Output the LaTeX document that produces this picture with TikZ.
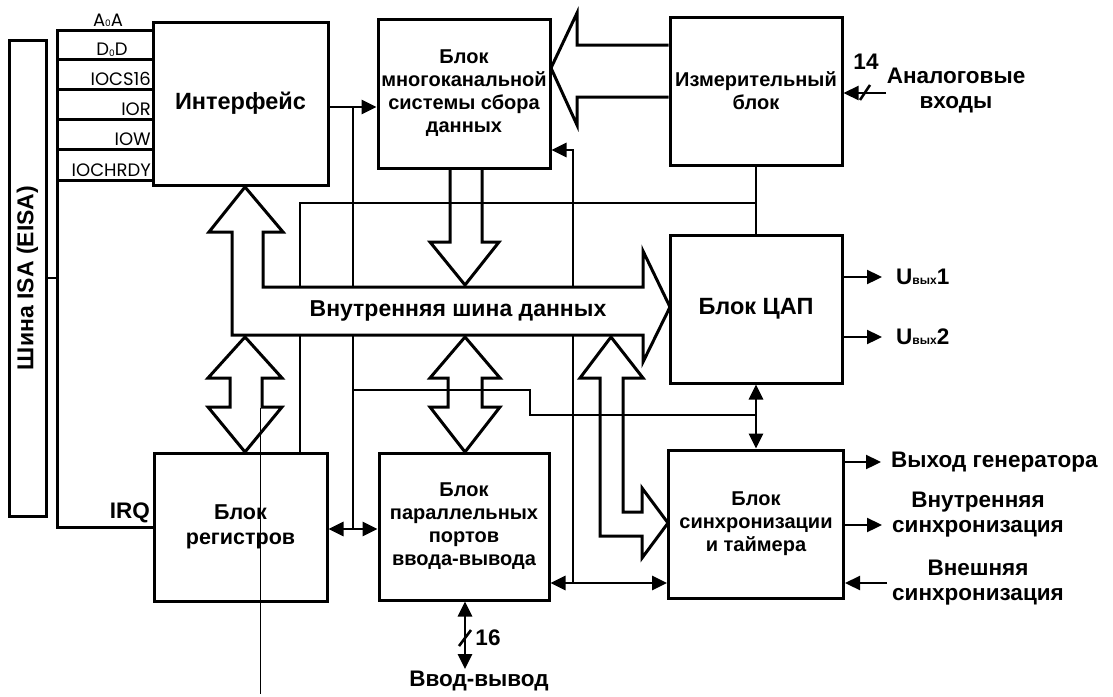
\documentclass[tikz,border=0pt]{standalone}
\usepackage{fontspec}
\setmainfont{Liberation Sans}
\newfontfamily\gothic{Poppins}
\usetikzlibrary{arrows.meta}
\begin{document}
\begin{tikzpicture}[x=1pt,y=-1pt,
  box/.style={draw, line width=3pt, inner sep=0pt, align=center,
              font=\bfseries\fontsize{20}{23}\selectfont},
  conn/.style={line width=2.8pt},
  hollow/.style={line width=3pt, line join=miter},
  tipend/.style={-{Triangle[length=15pt,width=14pt]}},
  dtip/.style={{Triangle[length=15pt,width=14pt]}-{Triangle[length=15pt,width=14pt]}},
  sig/.style={font=\gothic\fontsize{18}{18}\selectfont, inner sep=0pt},
  lab/.style={font=\bfseries\fontsize{22.5}{25}\selectfont, align=center, inner sep=0pt},
]
\useasboundingbox (0,0) rectangle (1113,696);

% ---- boxes
\node[box, minimum width=37pt, minimum height=476pt] (isa) at (27.5,278) {};
\node[box, minimum width=175pt, minimum height=163pt, font=\bfseries\fontsize{23.5}{26}\selectfont] (iface) at (240.5,103.5) {Интерфейс};
\node[box, minimum width=172pt, minimum height=149pt] (adc) at (464,93.5) {Блок\\многоканальной\\системы сбора\\данных};
\node[box, minimum width=172pt, minimum height=148pt] (meas) at (756,91) {Измерительный\\блок};
\node[box, minimum width=172pt, minimum height=148pt, font=\bfseries\fontsize{23.5}{26}\selectfont] (dac) at (756,309) {\raisebox{-8pt}{Блок ЦАП}};
\node[box, minimum width=173pt, minimum height=148pt, font=\bfseries\fontsize{21.5}{25}\selectfont] (regs) at (240.5,527) {Блок\\регистров};
\node[box, minimum width=170pt, minimum height=147pt] (par) at (464,526.5) {Блок\\параллельных\\портов\\ввода-вывода};
\node[box, minimum width=175pt, minimum height=148pt] (sync) at (756,524) {Блок\\синхронизации\\и таймера};

\node[lab, rotate=90, font=\bfseries\fontsize{23}{26}\selectfont] (isatext) at (isa.center) {Шина ISA (EISA)};

% ---- ISA signal lines
\coordinate (sa) at (57,30);
\coordinate (irqc) at (57,527);
\draw[conn, line width=3pt] (iface.west |- sa) -- (sa) -- (irqc) -- (regs.west |- irqc);
\foreach \y/\n in {59/d,89/cs,119/ior,149/iow,180/rdy}{
  \coordinate (s\n) at (57,\y);
  \draw[conn, line width=3pt] (s\n) -- (s\n -| iface.west);
}
\draw[conn] (isa.east) -- (isa.east -| sa);

\node[sig, anchor=base] (la) at (108,26) {A\raisebox{-1pt}{\fontsize{9}{9}\selectfont 0}A};
\node[sig, anchor=base] (ld) at (112,55) {D\raisebox{-1pt}{\fontsize{9}{9}\selectfont 0}D};
\node[sig, anchor=base east] (lcs) at (151,85) {IOCS16};
\node[sig, anchor=base east] (lior) at (151,115) {IOR};
\node[sig, anchor=base east] (liow) at (151,145) {IOW};
\node[sig, anchor=base east] (lrdy) at (151,176) {IOCHRDY};
\node[lab, anchor=base east] (irq) at (150,518) {IRQ};

% ---- connectors
\coordinate (j1) at (353,107);
\coordinate (j2) at (353,529);
\coordinate (c1) at (300,203);
\coordinate (m1) at (573,150);
\coordinate (m2) at (573,583);
\coordinate (k1) at (353,390);
\coordinate (k2) at (530,390);
\coordinate (k3) at (530,415);
\coordinate (k4) at (756,415);

\draw[conn, tipend] (iface.east |- j1) -- (adc.west |- j1);
\draw[conn] (j1) -- (j2);
\draw[conn, dtip] (regs.east |- j2) -- (par.west |- j2);
\draw[conn] (regs.north -| c1) -- (c1) -- (c1 -| meas.south);
\draw[conn] (meas.south) -- (dac.north);
\draw[conn, tipend] (m2) -- (m1) -- (adc.east |- m1);
\draw[conn, dtip] (par.east |- m2) -- (sync.west |- m2);
\draw[conn] (k1) -- (k2) -- (k3) -- (k4);
\draw[conn, dtip] (dac.south) -- (sync.north);

% thin scan line
\draw[line width=0.7pt] (260,408) -- (260,694);

% ---- internal data bus (filled)
\draw[hollow, fill=white] (245,187) -- (283,232) -- (263,232) -- (263,287) -- (643,287) -- (643,251)
  -- (670,307) -- (643,362) -- (643,335) -- (232,335) -- (232,232) -- (209,232) -- cycle;
\node[lab, font=\bfseries\fontsize{23}{25}\selectfont] (bustext) at (458,311) {Внутренняя шина данных};

% adc -> bus
\draw[hollow] (450,168) -- (450,242) -- (430,242) -- (465,285) -- (499,242) -- (482,242) -- (482,168);
% bus <-> regs
\draw[hollow] (245,337) -- (282,378) -- (262,378) -- (262,407) -- (282,407) -- (245,452)
  -- (208,407) -- (230,407) -- (230,378) -- (208,378) -- cycle;
% bus <-> par
\draw[hollow] (465,337) -- (500,378) -- (482,378) -- (482,407) -- (500,407) -- (465,452)
  -- (430,407) -- (448,407) -- (448,378) -- (430,378) -- cycle;
% bus -> sync
\draw[hollow] (611,337) -- (643,378) -- (623,378) -- (623,512) -- (642,512) -- (642,488)
  -- (668,523) -- (642,558) -- (642,536) -- (600,536) -- (600,378) -- (580,378) -- cycle;
% meas -> adc
\draw[hollow] (meas.west |- 0,45) -- (577,45) -- (577,13) -- (551,68) -- (577,125) -- (577,97) -- (meas.west |- 0,97);

% ---- analog inputs
\coordinate (ain) at (886,93);
\draw[conn, line width=2.3pt, tipend] (ain) -- (meas.east |- ain);
\draw[conn, line width=2.6pt] ([xshift=-26pt,yshift=-7pt]ain) -- ([xshift=-16pt,yshift=8pt]ain);
\node[lab] (n14) at (866,62) {14};
\node[lab] (alab) at (956,90) {Аналоговые\\входы};

% ---- DAC outputs
\node[lab, anchor=west] (u1) at (896,277) {U\raisebox{0pt}{\fontsize{12}{12}\selectfont вых}1};
\node[lab, anchor=west] (u2) at (896,337) {U\raisebox{0pt}{\fontsize{12}{12}\selectfont вых}2};
\draw[conn, line width=2.3pt, tipend] (dac.east |- u1) -- ([xshift=-14pt]u1.west);
\draw[conn, line width=2.3pt, tipend] (dac.east |- u2) -- ([xshift=-14pt]u2.west);

% ---- sync outputs
\node[lab, anchor=west] (gen) at (891,462) {Выход генератора};
\draw[conn, line width=2.3pt, tipend] (sync.east |- gen) -- ([xshift=-10pt]gen.west);
\node[lab] (isync) at (978,515) {Внутренняя\\синхронизация};
\coordinate (isa1) at (882,525);
\draw[conn, line width=2.3pt, tipend] (sync.east |- isa1) -- (isa1);
\node[lab] (esync) at (978,583) {Внешняя\\синхронизация};
\coordinate (ein) at (887,583);
\draw[conn, line width=2.3pt, tipend] (ein) -- (sync.east |- ein);

% ---- parallel I/O
\coordinate (ioe) at (465,669);
\draw[conn, dtip] (par.south -| ioe) -- (ioe);
\draw[conn, line width=2.6pt] ([xshift=-6pt,yshift=-8pt]465,638) -- ([xshift=6pt,yshift=8pt]465,638);
\node[lab] (n16) at (488,638) {16};
\node[lab] (iolab) at (479,681) {Ввод-вывод};
\end{tikzpicture}
\end{document}
